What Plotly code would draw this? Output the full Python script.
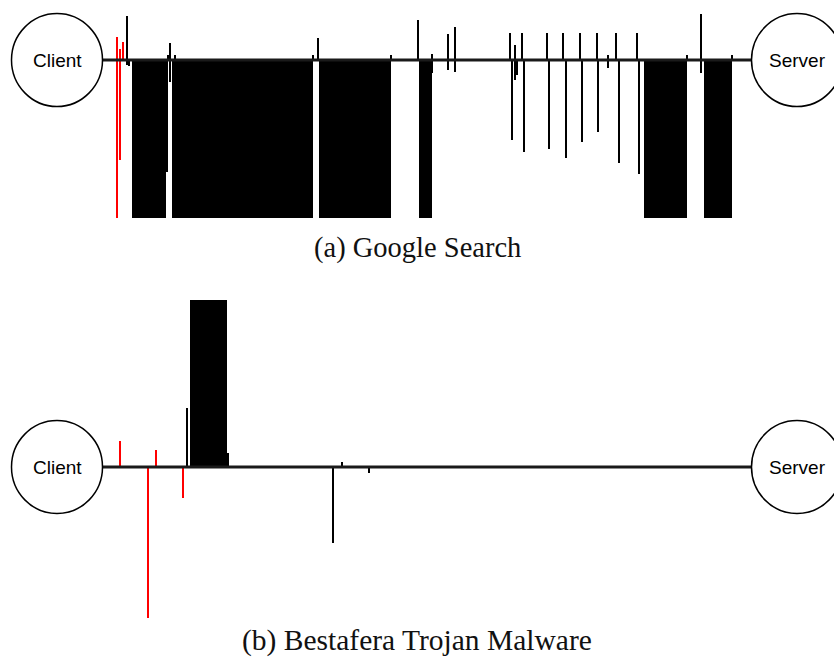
import plotly.graph_objects as go

# ---------------- data ----------------
# time positions along the client-server timeline (arbitrary time units)
# packet sizes: + = client -> server (upstream), - = server -> client (downstream)

# (a) Google Search
A_RED_T = [117, 117, 120, 120, 123]
A_RED_V = [230, -1600, 110, -1000, 180]

A_PKT_T = [127, 127, 129, 167, 168, 170, 170, 175, 313, 318, 391, 418,
           432, 432, 448, 448, 455, 455, 510, 512, 515, 515, 517, 522,
           524, 547, 549, 563, 566, 580, 582, 597, 598, 608, 608, 616,
           619, 637, 639, 687, 701, 701, 732]
A_PKT_V = [440, -50, -60, -1120, 50, 170, -220, 50, 50, 220, 50, 400,
           60, -130, 260, -100, 330, -120, 270, -800, 150, -200, -150, 270,
           -920, 270, -890, 270, -980, 270, -820, 270, -720, 50, -80, 270,
           -1030, 270, -1140, 50, 460, -130, 50]

A_BURST_START = [132, 172, 319, 419, 644, 704]
A_BURST_END = [166, 313, 391, 432, 687, 732]
A_BURST_V = [-1600, -1600, -1600, -1600, -1600, -1600]

# (b) Bestafera Trojan Malware
B_RED_T = [120, 148, 156, 183]
B_RED_V = [260, -1510, 170, -310]

B_PKT_T = [187, 333, 342, 369]
B_PKT_V = [590, -760, 50, -60]

B_BURST_START = [190, 227]
B_BURST_END = [227, 229]
B_BURST_V = [1700, 140]

NODE_LABELS = ["Client", "Server"]
NODE_T = [57, 797]
CAPTIONS = ["(a) Google Search", "(b) Bestafera Trojan Malware"]

# ---------------- figure ----------------
W, H = 834, 660
fig = go.Figure()

THIN = 2.4

def add_panel(xa, ya, red_t, red_v, pkt_t, pkt_v, bs, be, bv):
    fig.add_trace(go.Bar(x=pkt_t, y=pkt_v, width=THIN, marker=dict(color="black", line=dict(width=0)),
                         opacity=1, xaxis=xa, yaxis=ya, showlegend=False, hoverinfo="skip"))
    fig.add_trace(go.Bar(x=[(s + e) / 2 for s, e in zip(bs, be)], y=bv,
                         width=[e - s for s, e in zip(bs, be)],
                         marker=dict(color="black", line=dict(width=0)),
                         opacity=1, xaxis=xa, yaxis=ya, showlegend=False, hoverinfo="skip"))
    fig.add_trace(go.Bar(x=red_t, y=red_v, width=THIN, marker=dict(color="#ff0000", line=dict(width=0)),
                         opacity=1, xaxis=xa, yaxis=ya, showlegend=False, hoverinfo="skip"))

add_panel("x", "y", A_RED_T, A_RED_V, A_PKT_T, A_PKT_V, A_BURST_START, A_BURST_END, A_BURST_V)
add_panel("x2", "y2", B_RED_T, B_RED_V, B_PKT_T, B_PKT_V, B_BURST_START, B_BURST_END, B_BURST_V)

def px2paper(py):
    return 1 - py / H

hidden = dict(visible=False, showgrid=False, zeroline=False, fixedrange=True)
fig.update_layout(
    width=W, height=H,
    margin=dict(l=0, r=0, t=0, b=0),
    paper_bgcolor="white", plot_bgcolor="white",
    barmode="overlay", bargap=0,
    xaxis=dict(range=[0, W], domain=[0, 1], anchor="y", **hidden),
    yaxis=dict(range=[-1580, 480], domain=[px2paper(218), px2paper(12)], anchor="x", **hidden),
    xaxis2=dict(range=[0, W], domain=[0, 1], anchor="y2", **hidden),
    yaxis2=dict(range=[-1510, 1670], domain=[px2paper(618), px2paper(300)], anchor="x2", **hidden),
)

shapes = []
annotations = []
for xr, yr in [("x", "y"), ("x2", "y2")]:
    shapes.append(dict(type="line", xref=xr, yref=yr, x0=NODE_T[0], x1=NODE_T[1], y0=0, y1=0,
                       line=dict(color="#1a1a1a", width=3), layer="above"))
    for lab, t in zip(NODE_LABELS, NODE_T):
        shapes.append(dict(type="circle", xref=xr, yref=yr, xsizemode="pixel", ysizemode="pixel",
                           xanchor=t, yanchor=0, x0=-45.5, x1=45.5, y0=-46.5, y1=46.5,
                           fillcolor="white", line=dict(color="black", width=1.5), layer="above"))
        annotations.append(dict(xref=xr, yref=yr, x=t, y=0, text=lab, showarrow=False,
                                font=dict(family="Liberation Sans, Arial", size=19, color="black"),
                                xanchor="center", yanchor="middle"))

for cap, py, fs in zip(CAPTIONS, [248, 640], [28.5, 29.5]):
    annotations.append(dict(xref="paper", yref="paper", x=0.5, y=px2paper(py), text=cap,
                            showarrow=False, xanchor="center", yanchor="middle", borderpad=0,
                            font=dict(family="Liberation Serif, Times New Roman, serif", size=fs, color="#111")))

fig.update_layout(shapes=shapes, annotations=annotations)
fig.write_html("out.html", config={"displayModeBar": False, "staticPlot": True},
               post_script="document.body.style.margin='0';document.body.style.overflow='hidden';")
